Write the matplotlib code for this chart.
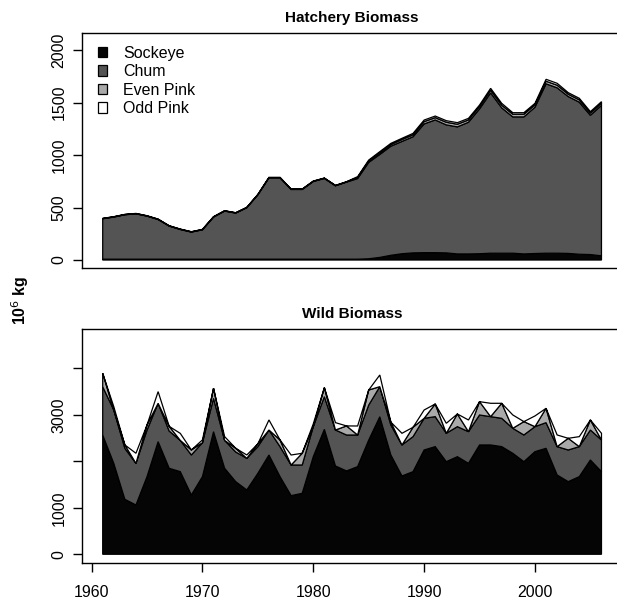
import matplotlib
matplotlib.use("Agg")
import matplotlib.pyplot as plt
import numpy as np
from matplotlib.patches import Patch

years = list(range(1961, 2007))

# Hatchery biomass (10^6 kg)
hat_sockeye = [8]*23 + [8, 12, 25, 45, 60, 68, 70, 70, 68, 58, 58, 60, 65, 65, 65, 58, 62, 65, 65, 63, 55, 52, 40]
hat_chum = [385, 401, 423, 432, 410, 378, 315, 283, 258, 280, 401, 458, 439, 490, 613, 775, 775, 664, 664, 740,
            769, 699, 734, 768, 918, 980, 1039, 1069, 1106, 1226, 1264, 1219, 1210, 1254, 1379, 1527, 1384, 1298,
            1305, 1393, 1613, 1575, 1494, 1448, 1326, 1433]
hat_even = [2]*23 + [10, 12, 15, 15, 18, 18, 22, 22, 25, 25, 22, 22, 25, 25, 25, 25, 22, 25, 25, 22, 22, 20, 20]
hat_odd = [2]*23 + [8, 10, 12, 12, 12, 14, 15, 15, 15, 15, 15, 15, 18, 18, 15, 15, 15, 18, 18, 15, 15, 15, 15]

# Wild biomass (10^6 kg)
wild_sockeye = [2565, 1956, 1182, 1060, 1670, 2422, 1849, 1777, 1276, 1670, 2637, 1849, 1562, 1383, 1741, 2135,
                1670, 1261, 1311, 2099, 2687, 1899, 1792, 1885, 2456, 2958, 2135, 1684, 1777, 2243, 2315, 1992,
                2099, 1956, 2351, 2351, 2315, 2171, 1992, 2207, 2279, 1705, 1562, 1670, 2028, 1777]
wild_chum = [1039, 1148, 1097, 896, 1003, 825, 801, 673, 859, 730, 717, 601, 638, 681, 574, 538, 645, 659, 609,
             646, 703, 774, 773, 680, 754, 647, 646, 667, 753, 681, 645, 610, 646, 681, 645, 609, 609, 538, 574,
             538, 552, 610, 681, 645, 645, 681]
# even-brood-year pink returns in odd years, odd-brood-year pink in even years
wild_even = [288, 0, 72, 0, 108, 0, 100, 0, 108, 0, 215, 0, 80, 0, 60, 0, 143, 0, 252, 0, 193, 0, 195, 0, 323, 0,
             60, 0, 201, 0, 272, 0, 272, 0, 286, 0, 323, 0, 287, 0, 308, 0, 251, 0, 215, 0]
wild_odd = [0, 71, 0, 216, 0, 251, 0, 150, 0, 60, 0, 80, 0, 71, 0, 216, 0, 215, 0, 60, 0, 158, 0, 194, 0, 251,
            0, 251, 0, 179, 0, 215, 0, 251, 0, 287, 0, 287, 0, 230, 0, 251, 0, 215, 0, 144]

labels = ["Sockeye", "Chum", "Even Pink", "Odd Pink"]
colors = ["#050505", "#545454", "#a9a9a9", "#ffffff"]

plt.rcParams['font.family'] = ['Liberation Sans', 'DejaVu Sans']

fig = plt.figure(figsize=(6.17, 6.0), dpi=100)
ax1 = fig.add_axes([0.1334, 0.5528, 0.8745, 0.3917])
ax2 = fig.add_axes([0.1334, 0.0612, 0.8745, 0.3900])


def stacked(ax, series):
    x = np.array(years, dtype=float)
    base = np.zeros(len(years))
    for s, c in zip(series, colors):
        top = base + np.array(s, dtype=float)
        poly_x = np.concatenate([x, x[::-1]])
        poly_y = np.concatenate([top, base[::-1]])
        ax.fill(poly_x, poly_y, facecolor=c, edgecolor="black", linewidth=0.9)
        base = top


stacked(ax1, [hat_sockeye, hat_chum, hat_even, hat_odd])
stacked(ax2, [wild_sockeye, wild_chum, wild_even, wild_odd])

for ax in (ax1, ax2):
    ax.set_xlim(1959.16, 2007.84)
    for sp in ax.spines.values():
        sp.set_linewidth(1.0)
    ax.tick_params(axis='both', direction='out', length=6.5, width=1.0, labelsize=11.5, colors='black')
    ax.tick_params(axis='y', labelrotation=90, pad=5)

ax1.set_ylim(-79, 2159)
ax1.set_yticks([0, 500, 1000, 1500, 2000])
ax1.set_xticks([])
for t in ax1.get_yticklabels():
    t.set_va('center')

ax2.set_ylim(-194, 4839)
ax2.set_yticks([0, 1000, 2000, 3000, 4000])
ax2.set_yticklabels(["0", "1000", "", "3000", ""])
for t in ax2.get_yticklabels():
    t.set_va('center')
ax2.set_xticks([1960, 1970, 1980, 1990, 2000])
ax2.tick_params(axis='x', pad=9)

ax1.set_title("Hatchery Biomass", fontsize=11, fontweight='bold', pad=8)
ax2.set_title("Wild Biomass", fontsize=11, fontweight='bold', pad=8)

handles = [Patch(facecolor=c, edgecolor='black', linewidth=0.9) for c in colors]
ax1.legend(handles, labels, loc='upper left', frameon=False, fontsize=11.5,
           handlelength=0.6, handleheight=0.6, handletextpad=1.0, labelspacing=0.22,
           borderaxespad=0.0, bbox_to_anchor=(0.017, 0.975))

fig.text(0.033, 0.5, "10$^6$ kg", rotation=90, ha='center', va='center', fontsize=11.5, fontweight='bold')

fig.savefig("out.png", dpi=100)
